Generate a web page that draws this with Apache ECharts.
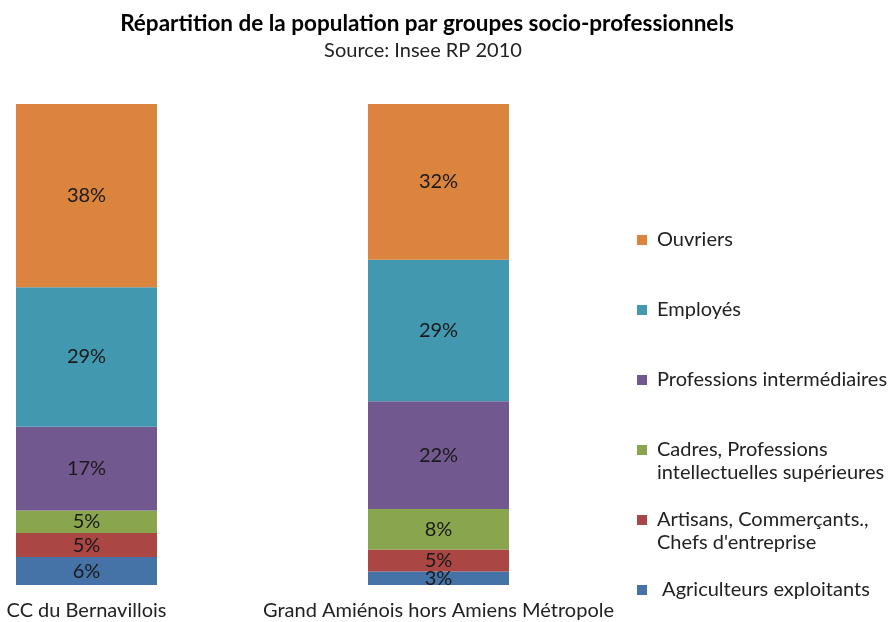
<!DOCTYPE html>
<html>
<head>
<meta charset="utf-8">
<script src="https://cdn.jsdelivr.net/npm/echarts@6/dist/echarts.min.js"></script>
<style>
  html, body { margin: 0; padding: 0; background: #fff; }
  #chart { width: 888px; height: 622px; }
</style>
</head>
<body>
<div id="chart"></div>
<script>
(function() {
  var font = 'Lato';

  // --- data ---
  var categories = ['CC du Bernavillois', 'Grand Amiénois hors Amiens Métropole'];
  var groups = [
    'Agriculteurs exploitants',
    'Artisans, Commerçants., Chefs d\'entreprise',
    'Cadres, Professions intellectuelles supérieures',
    'Professions intermédiaires',
    'Employés',
    'Ouvriers'
  ];
  var agriculteurs = [5.8, 2.8];
  var artisans = [5.0, 4.6];
  var cadres = [4.7, 8.4];
  var intermediaires = [17.4, 22.4];
  var employes = [29.0, 29.4];
  var ouvriers = [38.1, 32.4];
  var values = [agriculteurs, artisans, cadres, intermediaires, employes, ouvriers];
  var colors = ['#4572A7', '#AA4643', '#89A54E', '#71588F', '#4198AF', '#DB843D'];

  // legend labels as displayed; two-line ones get a blank first line so the
  // square lines up with the first line of text
  var legendText = {};
  legendText[groups[0]] = ' Agriculteurs exploitants';
  legendText[groups[1]] = '\nArtisans, Commerçants.,\nChefs d\'entreprise';
  legendText[groups[2]] = '\nCadres, Professions\nintellectuelles supérieures';
  legendText[groups[3]] = 'Professions intermédiaires';
  legendText[groups[4]] = 'Employés';
  legendText[groups[5]] = 'Ouvriers';
  var legendY = [590, 520, 450, 380, 310, 240];

  var lh = 23;
  var legends = groups.map(function(g, i) {
    var lines = legendText[g].split('\n').length;
    return {
      orient: 'vertical',
      left: 637,
      top: legendY[i] - lh * lines / 2,
      padding: 0,
      itemWidth: 10,
      itemHeight: 10,
      itemGap: 0,
      selectedMode: false,
      icon: 'rect',
      data: [{
        name: g,
        textStyle: {
          fontFamily: font, fontSize: 20, color: '#222', lineHeight: lh,
          padding: [0, 0, 0, 5]
        }
      }],
      formatter: function(n) { return legendText[n]; }
    };
  });

  var series = groups.map(function(g, i) {
    return {
      name: g,
      type: 'bar',
      stack: 'total',
      barWidth: 141,
      data: values[i],
      itemStyle: { color: colors[i] },
      label: {
        show: true,
        position: 'inside',
        fontFamily: font,
        fontSize: 20,
        color: '#1a1a1a',
        formatter: function(p) { return Math.round(p.value) + '%'; }
      }
    };
  });

  var chart = echarts.init(document.getElementById('chart'), null, { renderer: 'canvas' });
  chart.setOption({
    animation: false,
    title: [{
      text: 'Répartition de la population par groupes socio-professionnels',
      left: 422, top: 7, textAlign: 'center',
      textStyle: { fontFamily: font, fontSize: 22.5, fontWeight: 'bold', color: '#000' }
    }, {
      text: 'Source: Insee RP 2010',
      left: 418, top: 36, textAlign: 'center',
      textStyle: { fontFamily: font, fontSize: 20, fontWeight: 'normal', color: '#222' }
    }],
    legend: legends,
    grid: { left: 86.5, right: 888 - 438.5, top: 104, bottom: 37 },
    xAxis: {
      type: 'category',
      data: categories,
      boundaryGap: false,
      axisLine: { show: false },
      axisTick: { show: false },
      axisLabel: { fontFamily: font, fontSize: 20, color: '#222', margin: 16, interval: 0 }
    },
    yAxis: { type: 'value', min: 0, max: 100, show: false },
    series: series
  });
})();
</script>
</body>
</html>
